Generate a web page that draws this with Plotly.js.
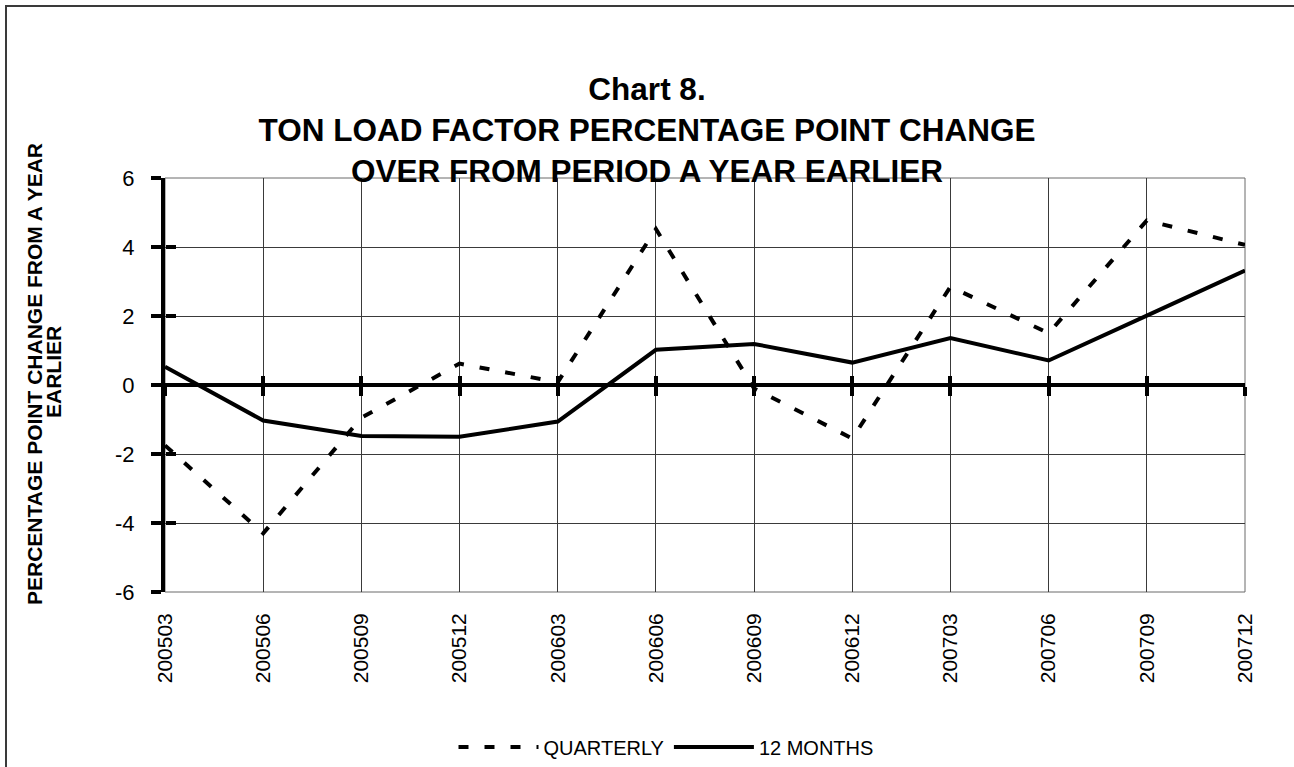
<!DOCTYPE html>
<html>
<head>
<meta charset="utf-8">
<script src="https://cdn.plot.ly/plotly-3.0.1.min.js"></script>
<style>
  html, body { margin: 0; padding: 0; background: #ffffff; overflow: hidden; }
  #chart { width: 1294px; height: 767px; position: relative; }
  #frame { position: absolute; left: 5px; top: 5px; width: 1400px; height: 900px;
           border-left: 2px solid #3a3a3a; border-top: 2px solid #3a3a3a; pointer-events: none; }
</style>
</head>
<body>
<div id="chart"></div>
<div id="frame"></div>
<script>
const categories = ['200503','200506','200509','200512','200603','200606','200609','200612','200703','200706','200709','200712'];
const quarterly = [-1.75, -4.3, -0.95, 0.62, 0.08, 4.52, -0.1, -1.55, 2.85, 1.5, 4.77, 4.06];
const twelveMonths = [0.53, -1.03, -1.48, -1.5, -1.06, 1.02, 1.19, 0.65, 1.36, 0.71, 2.01, 3.32];
const yTicks = [-6, -4, -2, 0, 2, 4, 6];
const seriesNames = ['QUARTERLY', '12 MONTHS'];
const titleLines = ['Chart 8.', 'TON LOAD FACTOR PERCENTAGE POINT CHANGE', 'OVER FROM PERIOD A YEAR EARLIER'];
const yTitleLines = ['PERCENTAGE POINT CHANGE FROM A YEAR', 'EARLIER'];

const FONT = 'Arial, "Liberation Sans", sans-serif';

const traces = [
  // invisible helper so the base axes (grid + labels) always exist
  {
    x: categories, y: twelveMonths, type: 'scatter', mode: 'lines',
    xaxis: 'x', yaxis: 'y', opacity: 0, showlegend: false, hoverinfo: 'skip',
    line: { color: 'rgba(0,0,0,0)', width: 0 }
  },
  {
    x: categories, y: quarterly, name: seriesNames[0], type: 'scatter', mode: 'lines',
    xaxis: 'x3', yaxis: 'y2',
    line: { color: '#000000', width: 4, dash: '10px,16px' }
  },
  {
    x: categories, y: twelveMonths, name: seriesNames[1], type: 'scatter', mode: 'lines',
    xaxis: 'x2', yaxis: 'y',
    line: { color: '#000000', width: 4 }
  }
];

const catRange = [0, categories.length - 1];
const PLOT_TOP = 178, PLOT_BOTTOM = 592, PLOT_LEFT = 165, PLOT_RIGHT = 1245;
const PH = PLOT_BOTTOM - PLOT_TOP, PW = PLOT_RIGHT - PLOT_LEFT;

const layout = {
  width: 1294, height: 767,
  margin: { l: PLOT_LEFT, r: 1294 - PLOT_RIGHT, t: PLOT_TOP, b: 767 - PLOT_BOTTOM, pad: 0, autoexpand: false },
  paper_bgcolor: '#ffffff', plot_bgcolor: '#ffffff',
  font: { family: FONT, color: '#000000', size: 21 },
  title: {
    text: titleLines.join('<br>'),
    font: { family: FONT, size: 31.5, color: '#000000', weight: 'bold' },
    x: 0.5, xref: 'container', xanchor: 'center',
    y: 1 - 100 / 767, yref: 'container', yanchor: 'middle'
  },
  xaxis: {
    type: 'category', categoryorder: 'array', categoryarray: categories,
    range: catRange,
    showgrid: true, gridcolor: '#3a3a3a', gridwidth: 1,
    showline: false, zeroline: false,
    ticks: '', tickangle: -90,
    tickfont: { family: FONT, size: 21, color: '#000000' },
    ticklabelstandoff: 16,
    automargin: false, fixedrange: true
  },
  xaxis2: {
    type: 'category', categoryorder: 'array', categoryarray: categories,
    range: catRange, overlaying: 'x', anchor: 'free', position: 0.5, side: 'bottom',
    showgrid: false, zeroline: false, showticklabels: false,
    showline: true, linecolor: '#000000', linewidth: 4,
    ticks: 'outside', ticklen: 9, tickwidth: 4, tickcolor: '#000000',
    automargin: false, fixedrange: true
  },
  xaxis3: {
    type: 'category', categoryorder: 'array', categoryarray: categories,
    range: catRange, overlaying: 'x', anchor: 'free', position: 0.5, side: 'bottom',
    showgrid: false, zeroline: false, showticklabels: false,
    showline: false,
    ticks: 'inside', ticklen: 9, tickwidth: 4, tickcolor: '#000000',
    automargin: false, fixedrange: true
  },
  yaxis: {
    range: [-6, 6], tickmode: 'array', tickvals: yTicks, ticktext: yTicks.map(String),
    showgrid: true, gridcolor: '#3a3a3a', gridwidth: 1,
    zeroline: true, zerolinecolor: '#000000', zerolinewidth: 4,
    showline: true, linecolor: '#000000', linewidth: 4,
    ticks: 'outside', ticklen: 10, tickwidth: 4, tickcolor: '#000000',
    tickfont: { family: FONT, size: 22, color: '#000000' },
    ticklabelstandoff: 12,
    automargin: false, fixedrange: true
  },
  yaxis2: {
    range: [-6, 6], tickmode: 'array', tickvals: yTicks,
    overlaying: 'y', side: 'left', anchor: 'free', position: 0,
    showgrid: false, zeroline: false, showticklabels: false, showline: false,
    ticks: 'inside', ticklen: 10, tickwidth: 4, tickcolor: '#000000',
    automargin: false, fixedrange: true
  },
  shapes: [
    { type: 'rect', xref: 'paper', yref: 'paper', x0: 0, x1: 1, y0: 0, y1: 1,
      line: { color: '#6a6a6a', width: 1 }, fillcolor: 'rgba(0,0,0,0)', layer: 'below' }
  ],
  annotations: [
    { text: yTitleLines[0], textangle: -90, xref: 'paper', yref: 'paper',
      x: (34 - PLOT_LEFT) / PW, y: (PLOT_BOTTOM - 374) / PH, xanchor: 'center', yanchor: 'middle', showarrow: false,
      font: { family: FONT, size: 21, color: '#000000', weight: 'bold' } },
    { text: yTitleLines[1], textangle: -90, xref: 'paper', yref: 'paper',
      x: (53 - PLOT_LEFT) / PW, y: (PLOT_BOTTOM - 372) / PH, xanchor: 'center', yanchor: 'middle', showarrow: false,
      font: { family: FONT, size: 21, color: '#000000', weight: 'bold' } }
  ],
  showlegend: true,
  legend: {
    orientation: 'h', x: (666 - PLOT_LEFT) / PW, xanchor: 'center',
    y: (PLOT_BOTTOM - 747) / PH, yanchor: 'middle',
    font: { family: FONT, size: 20, color: '#000000' },
    bgcolor: 'rgba(0,0,0,0)', borderwidth: 0, itemwidth: 80
  }
};

Plotly.newPlot('chart', traces, layout, { displayModeBar: false, staticPlot: true });
</script>
</body>
</html>
